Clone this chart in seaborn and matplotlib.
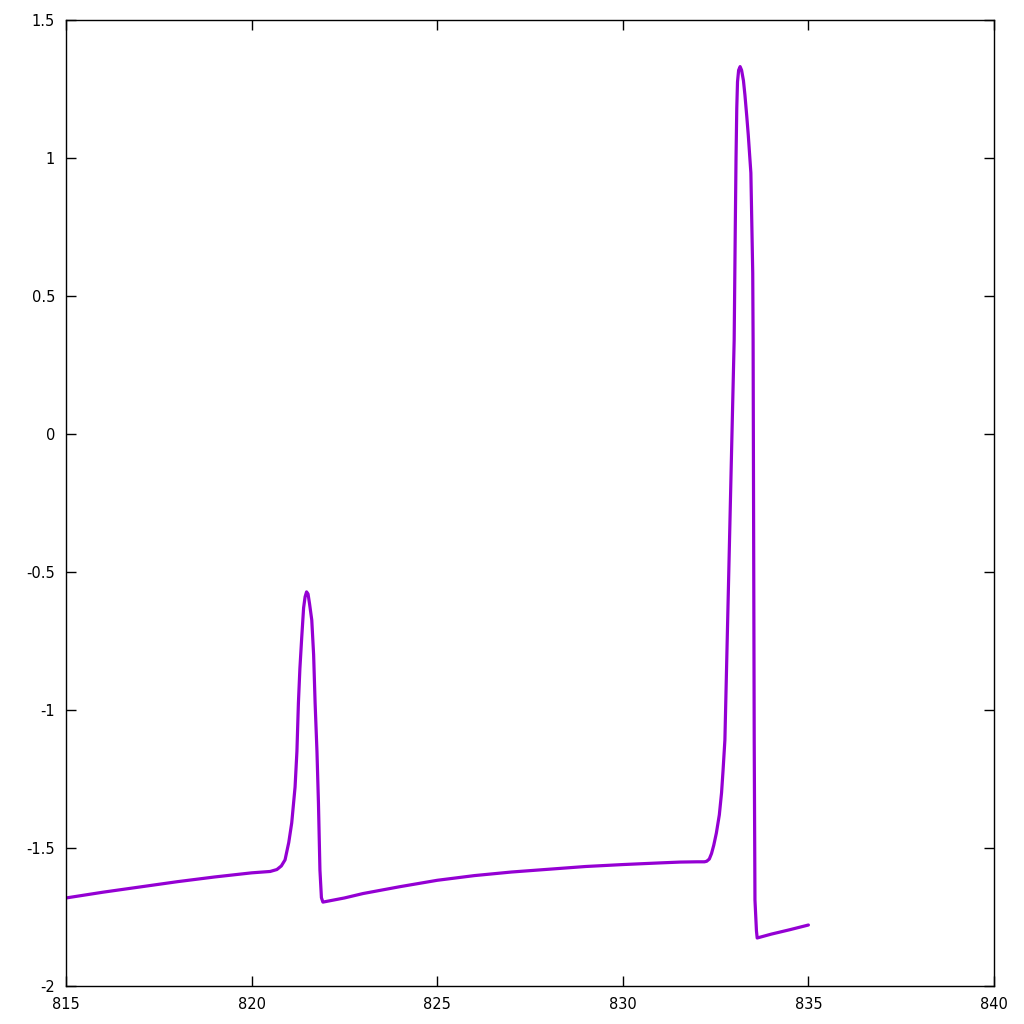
import seaborn as sns
import matplotlib.pyplot as plt
import pandas as pd

# trace
time = [815.0, 816.0, 817.0, 818.0, 819.0, 820.0, 820.5, 820.68, 820.8, 820.9,
        821.0, 821.08, 821.17, 821.22, 821.26, 821.3, 821.35, 821.40, 821.44, 821.48,
        821.52, 821.56, 821.62, 821.67, 821.71, 821.76, 821.8, 821.84, 821.88, 821.92,
        822.5, 823.0, 824.0, 825.0, 826.0, 827.0, 828.0, 829.0, 830.0, 831.0,
        831.54, 832.0, 832.2, 832.26, 832.33, 832.39, 832.45, 832.52, 832.60, 832.66,
        832.70, 832.75, 832.85, 832.92, 833.0, 833.03, 833.05, 833.07, 833.09, 833.12,
        833.16, 833.20, 833.25, 833.29, 833.34, 833.38, 833.45, 833.50, 833.51, 833.54,
        833.56, 833.60, 833.62, 834.0, 834.5, 835.0]
voltage = [-1.681, -1.660, -1.641, -1.622, -1.605, -1.590, -1.585, -1.578, -1.565, -1.543,
           -1.480, -1.409, -1.279, -1.150, -0.975, -0.850, -0.736, -0.630, -0.590, -0.572,
           -0.580, -0.615, -0.674, -0.800, -0.975, -1.150, -1.337, -1.580, -1.680, -1.696,
           -1.681, -1.665, -1.640, -1.617, -1.600, -1.587, -1.577, -1.567, -1.560, -1.554,
           -1.551, -1.550, -1.550, -1.548, -1.540, -1.520, -1.490, -1.446, -1.380, -1.300,
           -1.220, -1.109, -0.529, -0.120, 0.341, 0.750, 1.000, 1.180, 1.276, 1.318,
           1.331, 1.318, 1.280, 1.228, 1.150, 1.083, 0.946, 0.583, 0.341, -1.109,
           -1.688, -1.800, -1.826, -1.812, -1.796, -1.779]

xticks = [815, 820, 825, 830, 835, 840]
yticks = [-2, -1.5, -1, -0.5, 0, 0.5, 1, 1.5]
ytick_labels = ['-2', '-1.5', '-1', '-0.5', '0', '0.5', '1', '1.5']

df = pd.DataFrame({'t': time, 'v': voltage})

sns.set_style('white')
plt.rcParams['font.family'] = ['DejaVu Sans']
fig = plt.figure(figsize=(10.24, 10.24), dpi=100)
ax = fig.add_axes([0.0645, 0.0371, 0.9062, 0.9434])

sns.lineplot(data=df, x='t', y='v', estimator=None, sort=False,
             color='#9400D3', linewidth=2.3, ax=ax)

ax.set_xlim(815, 840)
ax.set_ylim(-2, 1.5)
ax.set_xticks(xticks)
ax.set_xticklabels([str(x) for x in xticks])
ax.set_yticks(yticks)
ax.set_yticklabels(ytick_labels)
ax.set_xlabel('')
ax.set_ylabel('')
ax.tick_params(direction='in', length=7, width=1, labelsize=10.5,
               top=True, right=True, bottom=True, left=True, pad=8, colors='black')
for s in ax.spines.values():
    s.set_visible(True)
    s.set_color('black')
    s.set_linewidth(1)

fig.savefig('out.png', dpi=100)
